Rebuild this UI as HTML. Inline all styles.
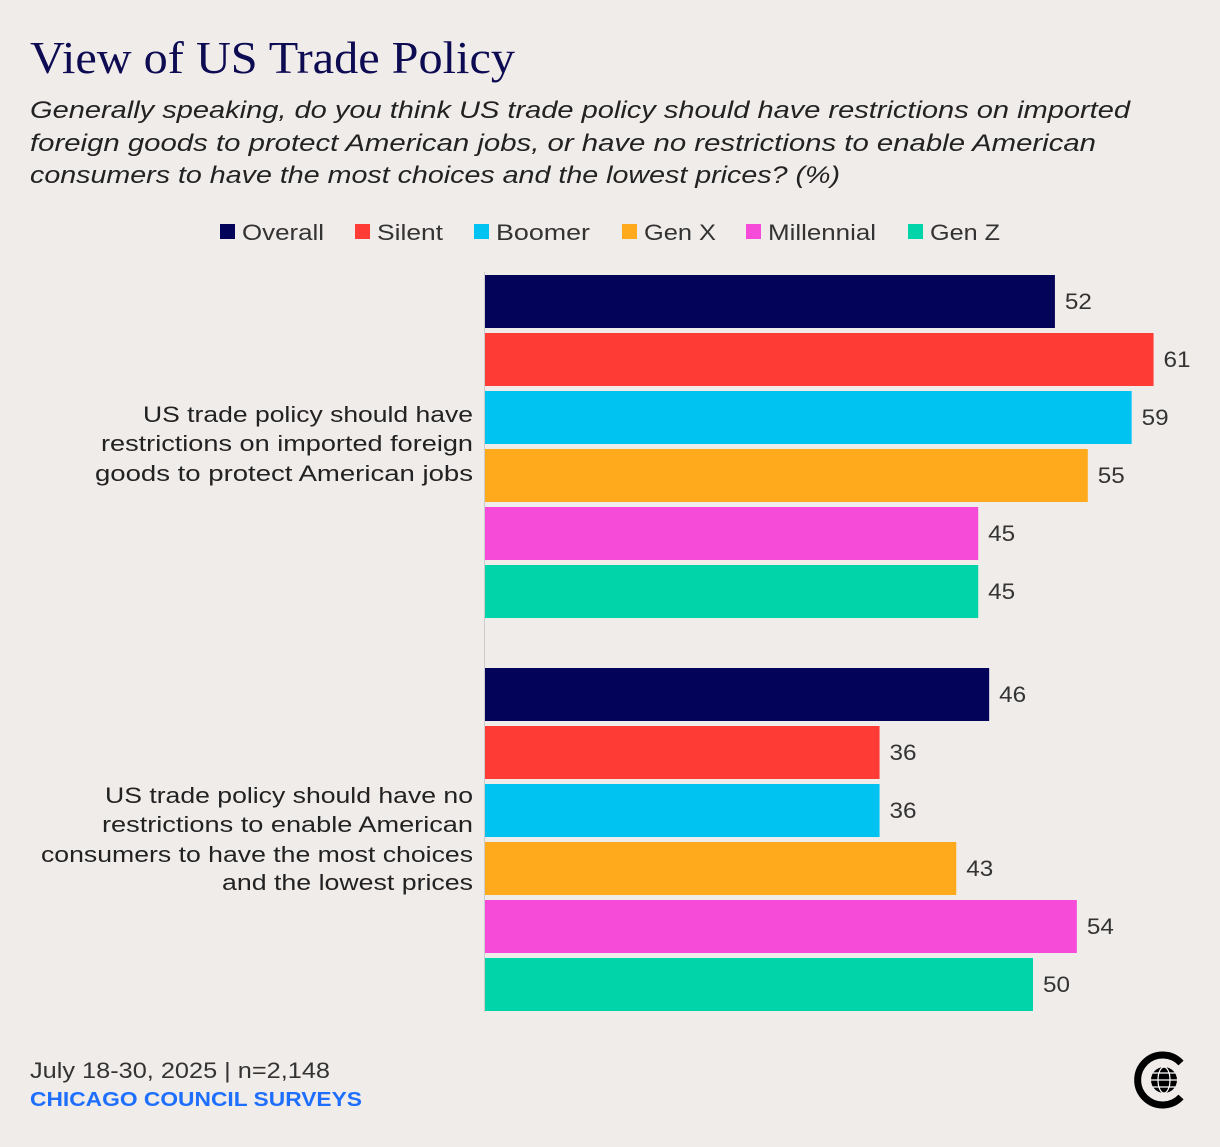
<!DOCTYPE html>
<html><head><meta charset="utf-8"><style>
body{margin:0;background:#f0ecea;width:1220px;height:1142px;overflow:hidden;font-family:"Liberation Sans",sans-serif}
</style></head><body>
<svg width="1220" height="1142" xmlns="http://www.w3.org/2000/svg">
<rect width="1220" height="1142" fill="#f0ecea"/>
<text x="30" y="73" font-family="Liberation Serif" font-size="46" fill="#0d0b52" textLength="485" lengthAdjust="spacingAndGlyphs">View of US Trade Policy</text>
<g font-size="24" font-style="italic" fill="#222">
<text x="30" y="118" textLength="1100" lengthAdjust="spacingAndGlyphs">Generally speaking, do you think US trade policy should have restrictions on imported</text>
<text x="30" y="151" textLength="1066" lengthAdjust="spacingAndGlyphs">foreign goods to protect American jobs, or have no restrictions to enable American</text>
<text x="30" y="183" textLength="810" lengthAdjust="spacingAndGlyphs">consumers to have the most choices and the lowest prices? (%)</text>
</g>
<g id="legend" font-size="22" fill="#333"></g>
<g id="bars"></g>
<line x1="484.5" y1="272" x2="484.5" y2="1012" stroke="#ccc" stroke-width="1"/>
<g font-size="22" fill="#222">
<text x="143" y="422" textLength="330" lengthAdjust="spacingAndGlyphs">US trade policy should have</text>
<text x="101" y="451" textLength="372" lengthAdjust="spacingAndGlyphs">restrictions on imported foreign</text>
<text x="95" y="481" textLength="378" lengthAdjust="spacingAndGlyphs">goods to protect American jobs</text>
</g>
<g font-size="22" fill="#222">
<text x="105" y="803" textLength="368" lengthAdjust="spacingAndGlyphs">US trade policy should have no</text>
<text x="102" y="832" textLength="371" lengthAdjust="spacingAndGlyphs">restrictions to enable American</text>
<text x="41" y="862" textLength="432" lengthAdjust="spacingAndGlyphs">consumers to have the most choices</text>
<text x="222" y="890" textLength="251" lengthAdjust="spacingAndGlyphs">and the lowest prices</text>
</g>
<text x="30" y="1078" font-size="22" fill="#333" textLength="300" lengthAdjust="spacingAndGlyphs">July 18-30, 2025 | n=2,148</text>
<text x="30" y="1106" font-size="20" font-weight="bold" fill="#1f6fff" textLength="332" lengthAdjust="spacingAndGlyphs">CHICAGO COUNCIL SURVEYS</text>
<g>
<path d="M1181 1063 A25 25 0 1 0 1181 1097" fill="none" stroke="#000" stroke-width="7"/>
<circle cx="1164" cy="1080" r="13" fill="#000"/>
<g stroke="#fff" stroke-width="1.2" fill="none">
<ellipse cx="1164" cy="1080" rx="6" ry="13"/>
<line x1="1151" y1="1080" x2="1177" y2="1080"/>
<line x1="1153" y1="1073" x2="1175" y2="1073"/>
<line x1="1153" y1="1087" x2="1175" y2="1087"/>
</g></g>
</svg>
<script>
const series=["Overall","Silent","Boomer","Gen X","Millennial","Gen Z"];
const colors=["#03035a","#ff3b36","#00c3f2","#ffaa1c","#f64ad9","#00d4a8"];
const restrictions=[52,61,59,55,45,45];
const noRestrictions=[46,36,36,43,54,50];
const groups=[restrictions,noRestrictions];
const ns="http://www.w3.org/2000/svg";
const x0=485,scale=10.96,groupTop=[275,668],step=58,bh=53;
const xs=v=>x0+v*scale;
const bars=document.getElementById('bars');
groups.forEach((vals,g)=>{vals.forEach((v,i)=>{
 const r=document.createElementNS(ns,'rect');
 r.setAttribute('x',x0);r.setAttribute('y',groupTop[g]+i*step);
 r.setAttribute('width',xs(v)-x0);r.setAttribute('height',bh);r.setAttribute('fill',colors[i]);
 
 
 bars.appendChild(r);
 const t=document.createElementNS(ns,'text');
 t.setAttribute('x',xs(v)+10);t.setAttribute('y',groupTop[g]+i*step+34);
 t.setAttribute('font-size','22');t.setAttribute('fill','#333');t.textContent=v;
 t.setAttribute('textLength','27');t.setAttribute('lengthAdjust','spacingAndGlyphs');
 
 
 bars.appendChild(t);
});});
const lg=document.getElementById('legend');
const lx=[220,355,474,622,746,908];
const lw=[82,66,94,72,108,70];
series.forEach((s,i)=>{
 const r=document.createElementNS(ns,'rect');
 r.setAttribute('x',lx[i]);r.setAttribute('y',224);r.setAttribute('width',15);r.setAttribute('height',15);r.setAttribute('fill',colors[i]);
 
 
 lg.appendChild(r);
 const t=document.createElementNS(ns,'text');
 t.setAttribute('x',lx[i]+22);t.setAttribute('y',240);t.textContent=s;
 t.setAttribute('textLength',lw[i]);t.setAttribute('lengthAdjust','spacingAndGlyphs');
 
 
 lg.appendChild(t);
});
</script>
</body></html>
